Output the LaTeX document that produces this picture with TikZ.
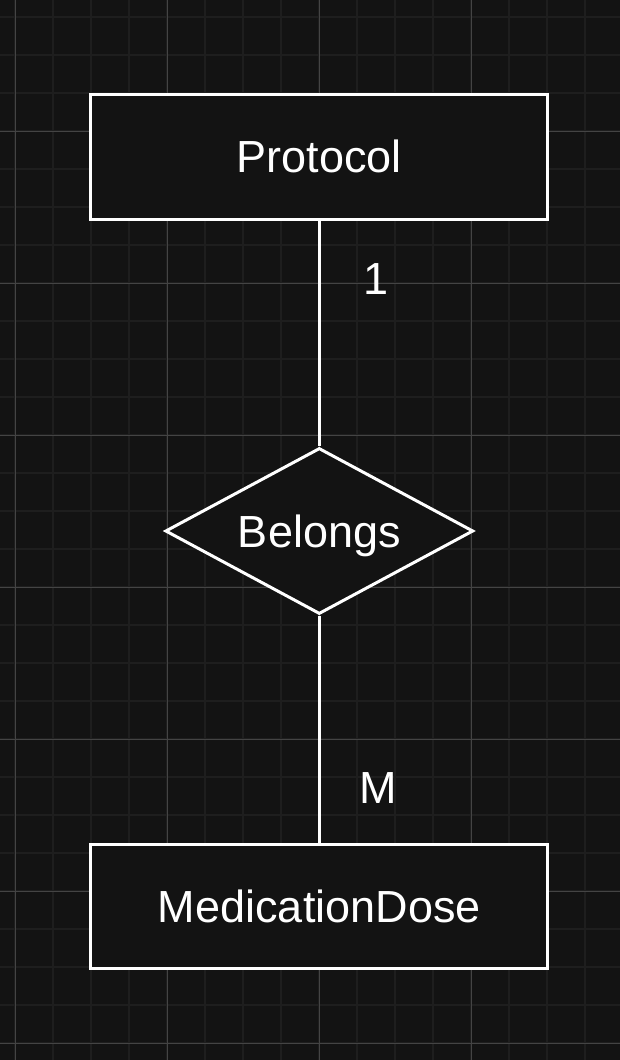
\documentclass[tikz,border=0pt]{standalone}
\usepackage{fontspec}
\setmainfont{Liberation Sans}
\usetikzlibrary{shapes.geometric}
\definecolor{canvas_bg}{HTML}{131313}
\definecolor{grid_minor}{HTML}{1E1E1E}
\definecolor{grid_major}{HTML}{444444}
\begin{document}
\begin{tikzpicture}[x=1pt,y=-1pt]
\tikzstyle{er_text}=[text=white,font=\fontsize{45}{54}\selectfont,text height=32pt,text depth=0pt,inner sep=0pt];
\tikzstyle{entity}=[draw=white,fill=canvas_bg,line width=3pt,minimum width=456.7pt,style=er_text];
\tikzstyle{relation}=[draw=white,fill=canvas_bg,line width=3pt,minimum width=308pt,minimum height=166pt,aspect=1.85,style=er_text];
\tikzstyle{cardinality}=[style=er_text];
\tikzstyle{link}=[draw=white,line width=3pt];
\useasboundingbox (0,0) rectangle (620,1060);
\path (0,0) rectangle (620,1060) [fill=canvas_bg];
% grid
\foreach \gx in {15.3,53.3,...,620} \path (\gx,0) -- (\gx,1060) [draw=grid_minor,line width=2pt];
\foreach \gy in {17.3,55.3,...,1060} \path (0,\gy) -- (620,\gy) [draw=grid_minor,line width=2pt];
\foreach \gx in {15.3,167.3,319.3,471.3} \path (\gx,0) -- (\gx,1060) [draw=grid_major,line width=1pt];
\foreach \gy in {131.3,283.3,435.3,587.3,739.3,891.3,1043.3} \path (0,\gy) -- (620,\gy) [draw=grid_major,line width=1pt];
\coordinate (protocol_pos) at (319.3,156.8);
\coordinate (belongs_pos) at (319.3,531);
\coordinate (dose_pos) at (319.3,906.2);
\coordinate (one_pos) at (376,278);
\coordinate (many_pos) at (378,787.5);
\node (protocol_box) at (protocol_pos) [rectangle, style=entity, minimum height=125pt] {Protocol};
\node (belongs_diamond) at (belongs_pos) [diamond, style=relation] {Belongs};
\node (dose_box) at (dose_pos) [rectangle, style=entity, minimum height=124.3pt] {MedicationDose};
\node (one_label) at (one_pos) [style=cardinality] {1};
\node (many_label) at (many_pos) [style=cardinality] {M};
\path (protocol_box) -- (belongs_diamond) [style=link];
\path (belongs_diamond) -- (dose_box) [style=link];
\end{tikzpicture}
\end{document}
